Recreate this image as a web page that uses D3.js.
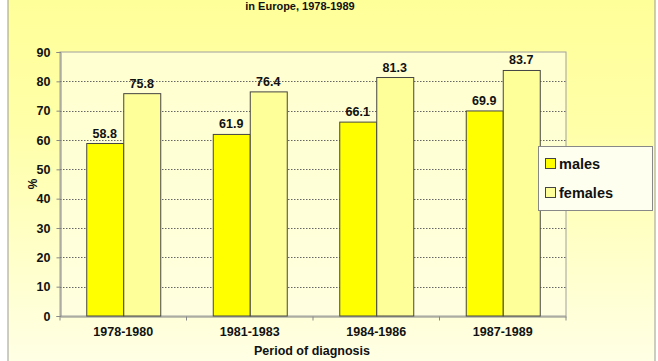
<!DOCTYPE html>
<html><head><meta charset="utf-8">
<script src="https://cdn.jsdelivr.net/npm/d3@7"></script>
<style>html,body{margin:0;padding:0;background:#fff;}svg{display:block;font-family:"Liberation Sans",Arial,sans-serif;font-weight:bold;}</style>
</head><body>
<script>
const categories = ["1978-1980","1981-1983","1984-1986","1987-1989"];
const males = [58.8, 61.9, 66.1, 69.9];
const females = [75.8, 76.4, 81.3, 83.7];
const seriesNames = ["males","females"];
const yTicks = [0,10,20,30,40,50,60,70,80,90];
const titleText = "in Europe, 1978-1989";
const xTitle = "Period of diagnosis";
const yTitle = "%";

const W = 658, H = 361;
const svg = d3.select("body").append("svg").attr("width", W).attr("height", H);
const defs = svg.append("defs");
const g = defs.append("linearGradient").attr("id","bg").attr("x1",0).attr("y1",0).attr("x2",0).attr("y2",1);
g.append("stop").attr("offset","0%").attr("stop-color","#ffff99");
g.append("stop").attr("offset","35%").attr("stop-color","#ffffa8");
g.append("stop").attr("offset","100%").attr("stop-color","#ffffe6");

svg.append("rect").attr("x",0).attr("y",0).attr("width",W).attr("height",H).attr("fill","#fff");
svg.append("rect").attr("x",8).attr("y",-5).attr("width",647).attr("height",H+10)
  .attr("fill","url(#bg)").attr("stroke","#9a9a9a").attr("stroke-width",1);

svg.append("text").attr("x",300).attr("y",10).attr("text-anchor","middle")
  .attr("font-size",11).attr("fill","#111").text(titleText);

const m = {left:60, right:566, top:52, bottom:316};
const x = d3.scaleBand().domain(categories).range([m.left, m.right]).paddingInner(0).paddingOuter(0);
const y = d3.scaleLinear().domain([0,90]).range([m.bottom, m.top]);
const groupW = 74;
const xs = d3.scaleBand().domain(seriesNames).range([0, groupW]);

// plot area
svg.append("rect").attr("x",m.left).attr("y",m.top).attr("width",m.right-m.left).attr("height",m.bottom-m.top)
  .attr("fill","#ffffe2").attr("fill-opacity",0.75).attr("stroke","#a0a0a0").attr("stroke-width",1);

// grid
svg.append("g").selectAll("line").data(yTicks.filter(d=>d>0 && d<90)).join("line")
  .attr("x1",m.left).attr("x2",m.right).attr("y1",d=>Math.round(y(d))+0.5).attr("y2",d=>Math.round(y(d))+0.5)
  .attr("stroke","#666").attr("stroke-width",1).attr("stroke-dasharray","1.5,1.5");

// y axis
const ya = svg.append("g").attr("transform",`translate(${m.left+0.5},0)`)
  .call(d3.axisLeft(y).tickValues(yTicks).tickSize(4).tickPadding(6));
ya.select(".domain").attr("stroke","#888");
ya.selectAll(".tick line").attr("stroke","#888");
ya.selectAll("text").attr("font-size",12.5).attr("font-weight","bold").attr("fill","#111").attr("font-family","Liberation Sans, Arial, sans-serif");

// x axis
const xa = svg.append("g").attr("transform",`translate(0,${m.bottom+0.5})`)
  .call(d3.axisBottom(x).tickSize(0).tickPadding(11));
xa.select(".domain").attr("stroke","#888");
xa.selectAll("text").attr("font-size",12.5).attr("font-weight","bold").attr("fill","#111").attr("font-family","Liberation Sans, Arial, sans-serif");
xa.append("g").selectAll("line").data([...categories.map(c=>x(c)), m.right]).join("line")
  .attr("x1",d=>d).attr("x2",d=>d).attr("y1",0).attr("y2",4).attr("stroke","#888");

// bars
const data = categories.map((c,i)=>({c, vals:[{s:"males",v:males[i]},{s:"females",v:females[i]}]}));
const colors = {males:"#ffff00", females:"#ffff99"};
const grp = svg.append("g").selectAll("g").data(data).join("g")
  .attr("transform",d=>`translate(${x(d.c)+(x.bandwidth()-groupW)/2},0)`);
grp.selectAll("rect").data(d=>d.vals).join("rect")
  .attr("x",d=>xs(d.s)+0.5).attr("width",xs.bandwidth())
  .attr("y",d=>y(d.v)).attr("height",d=>m.bottom-y(d.v))
  .attr("fill",d=>colors[d.s]).attr("stroke","#444").attr("stroke-width",1);
grp.selectAll("text").data(d=>d.vals).join("text")
  .attr("x",d=>xs(d.s)+xs.bandwidth()/2).attr("y",d=>y(d.v)-6)
  .attr("text-anchor","middle").attr("font-size",12.5).attr("fill","#111")
  .text(d=>d.v.toFixed(1));

// axis titles
svg.append("text").attr("x",312).attr("y",355).attr("text-anchor","middle").attr("font-size",12.5).attr("fill","#111").text(xTitle);
svg.append("text").attr("transform","translate(37,184) rotate(-90)").attr("text-anchor","middle").attr("font-size",12).attr("fill","#111").text(yTitle);

// legend
const lg = svg.append("g").attr("transform","translate(538,146)");
lg.append("rect").attr("x",0.5).attr("y",0.5).attr("width",114).attr("height",64).attr("fill","#fffff0").attr("stroke","#888");
const li = lg.selectAll("g").data(seriesNames).join("g").attr("transform",(d,i)=>`translate(7,${12+i*29})`);
li.append("rect").attr("x",0.5).attr("y",0.5).attr("width",10).attr("height",10).attr("fill",d=>colors[d]).attr("stroke","#444");
li.append("text").attr("x",14).attr("y",11).attr("font-size",14.5).attr("fill","#111").text(d=>d);
</script>
</body></html>
